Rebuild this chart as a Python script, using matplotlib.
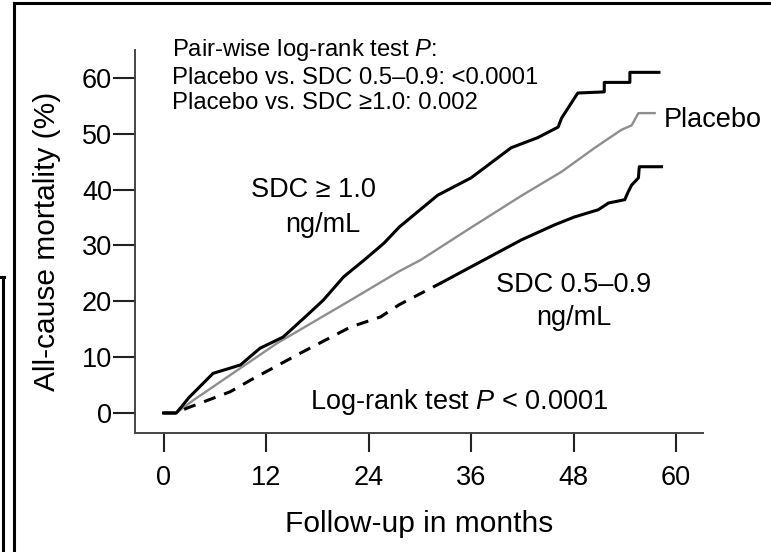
"""Kaplan-Meier style all-cause mortality by serum digoxin concentration."""

import matplotlib
matplotlib.use("Agg")
import matplotlib.pyplot as plt
from matplotlib.lines import Line2D

plt.rcParams["font.family"] = ["Liberation Sans", "DejaVu Sans"]
plt.rcParams["mathtext.fontset"] = "custom"
plt.rcParams["mathtext.rm"] = "Liberation Sans"
plt.rcParams["mathtext.it"] = "Liberation Sans:italic"

# values (months, % mortality)
high_months = [0, 1.5, 3.0, 5.8, 9.0, 11.3, 14.0, 16.8, 18.7, 21.1, 23.5, 25.8, 27.6,
               32.1, 36.0, 40.7, 43.8, 46.2, 46.6, 48.5, 51.6, 51.6, 54.6, 54.6, 58.0]
high_pct = [0, 0, 2.8, 7.1, 8.6, 11.6, 13.6, 17.5, 20.2, 24.4, 27.4, 30.4, 33.3,
            39.0, 42.1, 47.5, 49.3, 51.2, 52.8, 57.3, 57.5, 59.2, 59.2, 61.0, 61.0]

placebo_months = [0, 1.5, 3.5, 5.8, 13.3, 21.9, 27.5, 30.1, 36.0, 42.0, 46.6, 50.5,
                  53.6, 54.8, 55.6, 57.5]
placebo_pct = [0, 0, 2.3, 4.7, 12.5, 20.2, 25.3, 27.4, 33.2, 39.0, 43.2, 47.5,
               50.7, 51.5, 53.7, 53.7]

low_months = [0, 1.5, 2.8, 7.8, 10.2, 16.0, 21.9, 25.4, 27.6, 32.5,
              37.5, 41.9, 45.8, 48.1, 50.9, 52.1, 54.0, 54.4, 54.8, 55.6, 55.7, 58.3]
low_pct = [0, 0, 0.9, 3.8, 5.9, 10.7, 15.4, 17.2, 19.4, 23.3,
           27.4, 31.0, 33.7, 35.1, 36.4, 37.6, 38.2, 39.6, 40.8, 42.1, 44.1, 44.1]
low_dash_end = 10  # first 10 points drawn dashed

x_ticks = [0, 12, 24, 36, 48, 60]
y_ticks = [0, 10, 20, 30, 40, 50, 60]

fig = plt.figure(figsize=(7.71, 5.52), dpi=100)
ax = fig.add_axes([0.1751, 0.2156, 0.7367, 0.6938])

ax.plot(placebo_months, placebo_pct, color="#8e8e8e", lw=1.7, zorder=2)
ax.plot(low_months[:low_dash_end], low_pct[:low_dash_end], color="black", lw=2.2,
        dashes=(4, 3), zorder=3)
ax.plot(low_months[low_dash_end - 1:], low_pct[low_dash_end - 1:], color="black",
        lw=2.2, zorder=3)
ax.plot(high_months, high_pct, color="black", lw=2.2, zorder=4)

ax.set_xlim(-3.34, 63.16)
ax.set_ylim(-3.58, 65.0)
ax.set_xticks(x_ticks)
ax.set_yticks(y_ticks)
for side in ("top", "right"):
    ax.spines[side].set_visible(False)
for side in ("left", "bottom"):
    ax.spines[side].set_linewidth(1.4)
    ax.spines[side].set_color("#444444")
ax.tick_params(axis="y", direction="out", length=15.5, width=1.5, pad=1,
               labelsize=19.5, color="#222222")
ax.tick_params(axis="x", direction="out", length=14, width=1.5, pad=9,
               labelsize=19.5, color="#222222")

ax.set_xlabel("Follow-up in months", fontsize=21.5, labelpad=14)
ax.set_ylabel("All-cause mortality (%)", fontsize=21.5, labelpad=15)

ax.text(1.0, 65.0, "Pair-wise log-rank test $P$:", fontsize=17.2, va="center",
        ha="left", clip_on=False)
ax.text(1.0, 60.0, "Placebo vs. SDC 0.5\u20130.9: <0.0001", fontsize=17.2,
        va="center", ha="left")
ax.text(1.0, 55.5, "Placebo vs. SDC \u22651.0: 0.002", fontsize=17.2,
        va="center", ha="left")

ax.text(17.6, 40.0, "SDC \u2265 1.0", fontsize=19.5, ha="center", va="center")
ax.text(18.6, 33.7, "ng/mL", fontsize=19.5, ha="center", va="center")
ax.text(58.6, 52.5, "Placebo", fontsize=19.5, ha="left", va="center", clip_on=False)
ax.text(48.0, 22.9, "SDC 0.5\u20130.9", fontsize=19.5, ha="center", va="center")
ax.text(48.0, 17.0, "ng/mL", fontsize=19.5, ha="center", va="center")
ax.text(34.6, 2.0, "Log-rank test $P$ < 0.0001", fontsize=19.5, ha="center",
        va="center")

# scanned page frame
W, H = 771.0, 552.0
frame = dict(color="black", lw=2.2, transform=fig.transFigure)
fig.add_artist(Line2D([14 / W, 14 / W], [0, 1 - 3 / H], **frame))
fig.add_artist(Line2D([14 / W, 1], [1 - 3 / H, 1 - 3 / H], **frame))
fig.add_artist(Line2D([3 / W, 3 / W], [0, 1 - 277 / H], **frame))
fig.add_artist(Line2D([0, 4 / W], [1 - 277 / H, 1 - 277 / H], **frame))

fig.savefig("out.png", dpi=100)
